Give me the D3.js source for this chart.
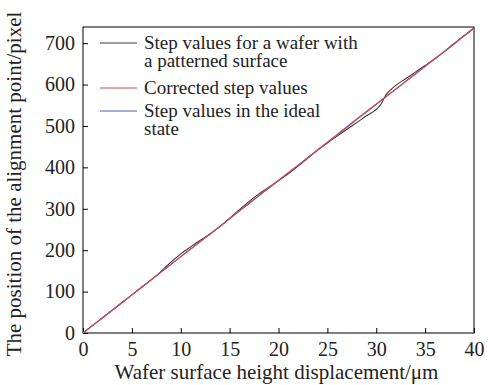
<!DOCTYPE html>
<meta charset="utf-8">
<style>
    body { margin: 0; background: #fff; }
    svg text { font-family: "Liberation Serif", "DejaVu Serif", serif; }
    .axis path, .axis line { fill: none; stroke: #000; stroke-width: 1; }
    .axis text { font-size: 20px; fill: #222; }
</style>
<body>
<script src="https://cdn.jsdelivr.net/npm/d3@7"></script>
<script>
    // data
    const xs = [0,1,2,3,4,5,6,7,8,9,10,11,12,13,14,15,16,17,18,19,20,21,22,23,24,25,26,27,28,29,30,30.5,31,32,33,34,35,36,37,38,39,40];
    const idealVals = [0,18.4,36.8,55.2,73.6,92,110.4,128.8,147.2,165.6,184,202.4,220.8,239.2,257.6,276,294.4,312.8,331.2,349.6,368,386.4,404.8,423.2,441.6,460,478.4,496.8,515.2,533.6,552,561.2,570.4,588.8,607.2,625.6,644,662.4,680.8,699.2,717.6,736];
    const patternedVals = [0,18.4,36.8,55.2,73.6,92,110.4,129,149,171,191,208,224,239,257,277,298,318,336,352,368,384.5,403,422.5,441.6,459,475.5,492,508,524.5,540,553,575,598,614,630,646,662.4,680,699.2,718.5,737];
    const correctedVals = [0,18.4,36.8,55.2,73.6,92,110.4,128.8,147.5,166.5,185,203,221,239.2,257.6,276.5,295.5,314,332.5,351,369,387.4,405.5,424,442.5,461,479.5,498.5,517,535,553,562,571,589.5,607.5,625.6,644,662.4,680.8,699.2,717.6,736];
    const xTicks = [0,5,10,15,20,25,30,35,40];
    const yTicks = [0,100,200,300,400,500,600,700];
    const seriesNames = ["Step values for a wafer with|a patterned surface", "Corrected step values", "Step values in the ideal|state"];
    const seriesColors = ["#3a3a3a", "#e0474c", "#4a5cc0"];

    const width = 492, height = 385;
    const margin = {top: 27, right: 18, bottom: 52, left: 83};
    const innerW = width - margin.left - margin.right;
    const innerH = height - margin.top - margin.bottom;
    const serif = '"Liberation Serif", "DejaVu Serif", serif';

    const svg = d3.select('body').append('svg')
        .attr('width', width)
        .attr('height', height)
        .attr('font-family', serif);

    const g = svg.append('g')
        .attr('transform', `translate(${margin.left},${margin.top})`);

    const x = d3.scaleLinear().domain([0, 40]).range([0, innerW]);
    const y = d3.scaleLinear().domain([0, 739]).range([innerH, 0]);

    // frame
    g.append('rect')
        .attr('width', innerW).attr('height', innerH)
        .attr('fill', 'none').attr('stroke', '#000').attr('stroke-width', 1);

    // x axis, ticks pointing inward
    g.append('g')
        .attr('class', 'axis')
        .attr('transform', `translate(0,${innerH})`)
        .call(d3.axisBottom(x).tickValues(xTicks).tickSizeInner(-5).tickSizeOuter(0).tickPadding(9))
        .attr('font-family', serif)
        .call(a => a.select('.domain').remove());

    // y axis
    g.append('g')
        .attr('class', 'axis')
        .call(d3.axisLeft(y).tickValues(yTicks).tickSizeInner(-5).tickSizeOuter(0).tickPadding(8))
        .attr('font-family', serif)
        .call(a => a.select('.domain').remove());

    // axis titles
    svg.append('text')
        .attr('x', margin.left + innerW / 2 - 2)
        .attr('y', 379)
        .attr('text-anchor', 'middle')
        .style('font-size', '21px')
        .attr('fill', '#222')
        .text('Wafer surface height displacement/\u03bcm');

    svg.append('text')
        .attr('transform', 'translate(21,184) rotate(-90)')
        .attr('text-anchor', 'middle')
        .style('font-size', '21px')
        .attr('fill', '#222')
        .text('The position of the alignment point/pixel');

    // lines
    const allVals = [patternedVals, correctedVals, idealVals];
    const line = d3.line()
        .x((d, i) => x(xs[i]))
        .y(d => y(d))
        .curve(d3.curveMonotoneX);

    [0, 2, 1].forEach(k => {
        g.append('path')
            .datum(allVals[k])
            .attr('d', line)
            .attr('fill', 'none')
            .attr('stroke', seriesColors[k])
            .attr('stroke-width', 1.1);
    });

    // legend
    const legY = [16, 61, 84];
    const legend = g.append('g').attr('class', 'legend');
    seriesNames.forEach((name, i) => {
        const row = legend.append('g').attr('transform', `translate(0,${legY[i]})`);
        row.append('line')
            .attr('x1', 17).attr('x2', 54)
            .attr('stroke', seriesColors[i]).attr('stroke-width', 1.1);
        name.split('|').forEach((t, j) => {
            row.append('text')
                .attr('x', 61)
                .attr('y', 6 + j * 18)
                .style('font-size', '19px')
                .attr('fill', '#222')
                .text(t);
        });
    });
</script>
</body>
</html>
